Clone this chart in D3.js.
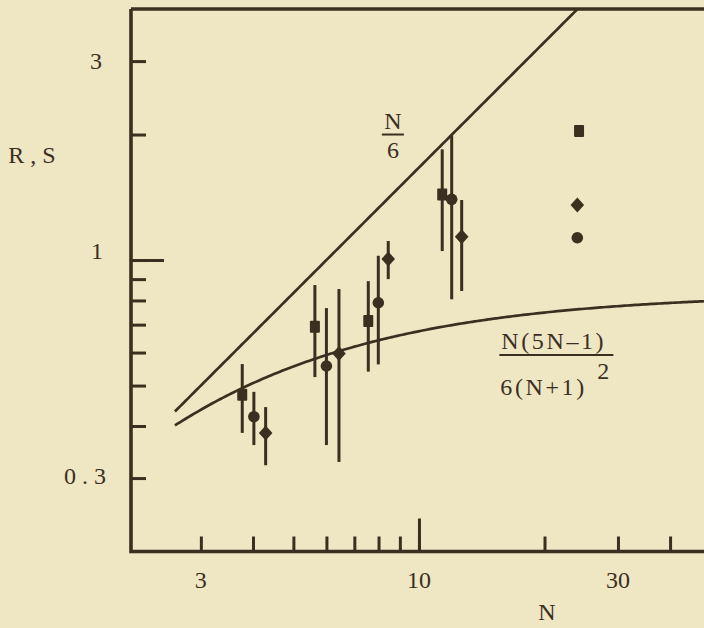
<!DOCTYPE html>
<html><head><meta charset="utf-8">
<script src="https://cdn.jsdelivr.net/npm/d3@7"></script>
<style>html,body{margin:0;padding:0;background:#efe6c4;} svg{display:block;}</style>
</head><body>
<svg id="c" width="704" height="628"></svg>
<script>
// ---- data ----
const xTickValues = [3,4,5,6,7,8,9,10,20,30,40];
const xMajorTicks = [10];
const xLabelValues = [3,10,30];
const yTickValues = [0.3,0.4,0.5,0.6,0.7,0.8,0.9,1,2,3];
const yMajorTicks = [1];
const yLabelValues = [0.3,1,3];

const squareN  = [3.77, 5.63, 7.56, 11.37, 24.2];
const squareV  = [0.475, 0.692, 0.714, 1.437, 2.04];
const squareLo = [0.385, 0.524, 0.540, 1.051, null];
const squareHi = [0.563, 0.871, 0.890, 1.843, null];

const circleN  = [4.02, 6.0, 7.99, 11.98, 23.97];
const circleV  = [0.421, 0.557, 0.790, 1.398, 1.131];
const circleLo = [0.360, 0.360, 0.562, 0.805, null];
const circleHi = [0.483, 0.767, 1.024, 1.99, null];

const diamondN  = [4.29, 6.43, 8.44, 12.66, 23.97];
const diamondV  = [0.385, 0.597, 1.006, 1.137, 1.355];
const diamondLo = [0.322, 0.328, 0.900, 0.843, null];
const diamondHi = [0.444, 0.852, 1.111, 1.393, null];

const curveRange = [2.6, 50];   // N range of the two theoretical curves
const xDomain = [2.04, 50];
const yDomain = [0.2, 4];

// ---- drawing ----
const ink = "#3b2f1f";
const svg = d3.select("#c");
svg.append("rect").attr("width",704).attr("height",628).attr("fill","#efe6c4");

const x = d3.scaleLog().domain(xDomain).range([131, 710.5]);
const y = d3.scaleLog().domain(yDomain).range([551.5, 9]);

const serif = "'Liberation Serif', 'DejaVu Serif', serif";

svg.append("clipPath").attr("id","plot").append("rect")
  .attr("x", x(xDomain[0])).attr("y", y(yDomain[1]))
  .attr("width", x(xDomain[1]) - x(xDomain[0]))
  .attr("height", y(yDomain[0]) - y(yDomain[1]));

// ticks (inward)
const xAxis = d3.axisBottom(x).tickValues(xTickValues).tickSizeInner(-15).tickSizeOuter(0).tickFormat("");
const gx = svg.append("g").attr("transform", `translate(0,${y(yDomain[0])})`).call(xAxis);
const xAxisMajor = d3.axisBottom(x).tickValues(xMajorTicks).tickSizeInner(-33).tickSizeOuter(0).tickFormat("");
const gx2 = svg.append("g").attr("transform", `translate(0,${y(yDomain[0])})`).call(xAxisMajor);
const yAxis = d3.axisLeft(y).tickValues(yTickValues).tickSizeInner(-15).tickSizeOuter(0).tickFormat("");
const gy = svg.append("g").attr("transform", `translate(${x(xDomain[0])},0)`).call(yAxis);
const yAxisMajor = d3.axisLeft(y).tickValues(yMajorTicks).tickSizeInner(-33).tickSizeOuter(0).tickFormat("");
const gy2 = svg.append("g").attr("transform", `translate(${x(xDomain[0])},0)`).call(yAxisMajor);
[gx,gx2,gy,gy2].forEach(g => {
  g.selectAll(".domain").remove();
  g.selectAll(".tick line").attr("stroke", ink).attr("stroke-width", 3);
});

// frame lines (left, bottom, top)
const frame = svg.append("g").attr("stroke", ink).attr("stroke-width", 3.6).attr("fill","none");
frame.append("path").attr("d",
  `M${x(xDomain[0])},${y(yDomain[1])} L${x(xDomain[0])},${y(yDomain[0])} L${x(xDomain[1])},${y(yDomain[0])}`);
frame.append("path").attr("d",
  `M${x(xDomain[0])},${y(yDomain[1])} L${x(xDomain[1])},${y(yDomain[1])}`);

// tick labels
svg.append("g").selectAll("text").data(xLabelValues).join("text")
  .attr("x", d => x(d)).attr("y", 588)
  .attr("text-anchor","middle").attr("font-family", serif).attr("font-size", 24)
  .attr("fill", ink).text(d => d);
const yLabelX = {0.3: 88, 1: 97, 3: 96};
const yLabelDy = {0.3: 6, 1: -1, 3: 8};
svg.append("g").selectAll("text").data(yLabelValues).join("text")
  .attr("x", d => yLabelX[d]).attr("y", d => y(d) + yLabelDy[d])
  .attr("text-anchor","middle").attr("font-family", serif).attr("font-size", 24)
  .attr("letter-spacing", d => d === 0.3 ? 6 : 0)
  .attr("fill", ink).text(d => d);

// axis titles
svg.append("text").attr("x", 35).attr("y", 163).attr("text-anchor","middle")
  .attr("font-family", serif).attr("font-size", 24).attr("letter-spacing", 6)
  .attr("fill", ink).text("R,S");
svg.append("text").attr("x", 547).attr("y", 620).attr("text-anchor","middle")
  .attr("font-family", serif).attr("font-size", 24).attr("fill", ink).text("N");

// theoretical curves
const logSamples = d3.range(0, 201).map(i => Math.exp(Math.log(curveRange[0]) + i/200*(Math.log(curveRange[1]) - Math.log(curveRange[0]))));
const line = d3.line().x(d => x(d[0])).y(d => y(d[1]));
const curves = svg.append("g").attr("clip-path","url(#plot)").attr("fill","none")
  .attr("stroke", ink).attr("stroke-width", 2.7);
curves.append("path").attr("d", line(logSamples.map(n => [n, n/6])));
curves.append("path").attr("d", line(logSamples.map(n => [n, n*(5*n-1)/(6*(n+1)*(n+1))])));

// error bars + markers
function series(N, V, Lo, Hi) {
  return N.map((n,i) => ({n, v:V[i], lo:Lo[i], hi:Hi[i]}));
}
const sq = series(squareN, squareV, squareLo, squareHi);
const ci = series(circleN, circleV, circleLo, circleHi);
const di = series(diamondN, diamondV, diamondLo, diamondHi);
const bars = svg.append("g").attr("stroke", ink).attr("stroke-width", 3);
[sq, ci, di].forEach(s => {
  bars.selectAll(null).data(s.filter(d => d.lo !== null)).join("line")
    .attr("x1", d => x(d.n)).attr("x2", d => x(d.n))
    .attr("y1", d => y(d.hi)).attr("y2", d => y(d.lo));
});
const marks = svg.append("g").attr("fill", ink);
marks.selectAll(null).data(sq).join("rect")
  .attr("x", d => x(d.n) - 5).attr("y", d => y(d.v) - 6)
  .attr("width", 10).attr("height", 12).attr("rx", 1);
marks.selectAll(null).data(ci).join("circle")
  .attr("cx", d => x(d.n)).attr("cy", d => y(d.v)).attr("r", 5.8);
marks.selectAll(null).data(di).join("path")
  .attr("d", d => { const cx = x(d.n), cy = y(d.v);
    return `M${cx},${cy-7.5} L${cx+6.8},${cy} L${cx},${cy+7.5} L${cx-6.8},${cy} Z`; });

// formula annotations
const ann = svg.append("g").attr("font-family", serif).attr("font-size", 24).attr("fill", ink);
const f1x = x(8.66), f1y = y(2.0);
ann.append("text").attr("x", f1x).attr("y", f1y - 6).attr("text-anchor","middle").text("N");
ann.append("line").attr("x1", f1x - 11).attr("x2", f1x + 11).attr("y1", f1y).attr("y2", f1y)
  .attr("stroke", ink).attr("stroke-width", 2);
ann.append("text").attr("x", f1x).attr("y", f1y + 23).attr("text-anchor","middle").text("6");

const f2x = x(21), f2y = y(0.592);
ann.append("text").attr("x", f2x - 52).attr("y", f2y - 6).attr("letter-spacing", 2.6).text("N(5N\u2013l)".replace("l","1"));
ann.append("line").attr("x1", f2x - 54).attr("x2", f2x + 60).attr("y1", f2y).attr("y2", f2y)
  .attr("stroke", ink).attr("stroke-width", 2.2);
ann.append("text").attr("x", f2x - 53).attr("y", f2y + 40).attr("letter-spacing", 2.6).text("6(N+1)");
ann.append("text").attr("x", f2x + 44).attr("y", f2y + 24).text("2");
</script>
</body></html>
